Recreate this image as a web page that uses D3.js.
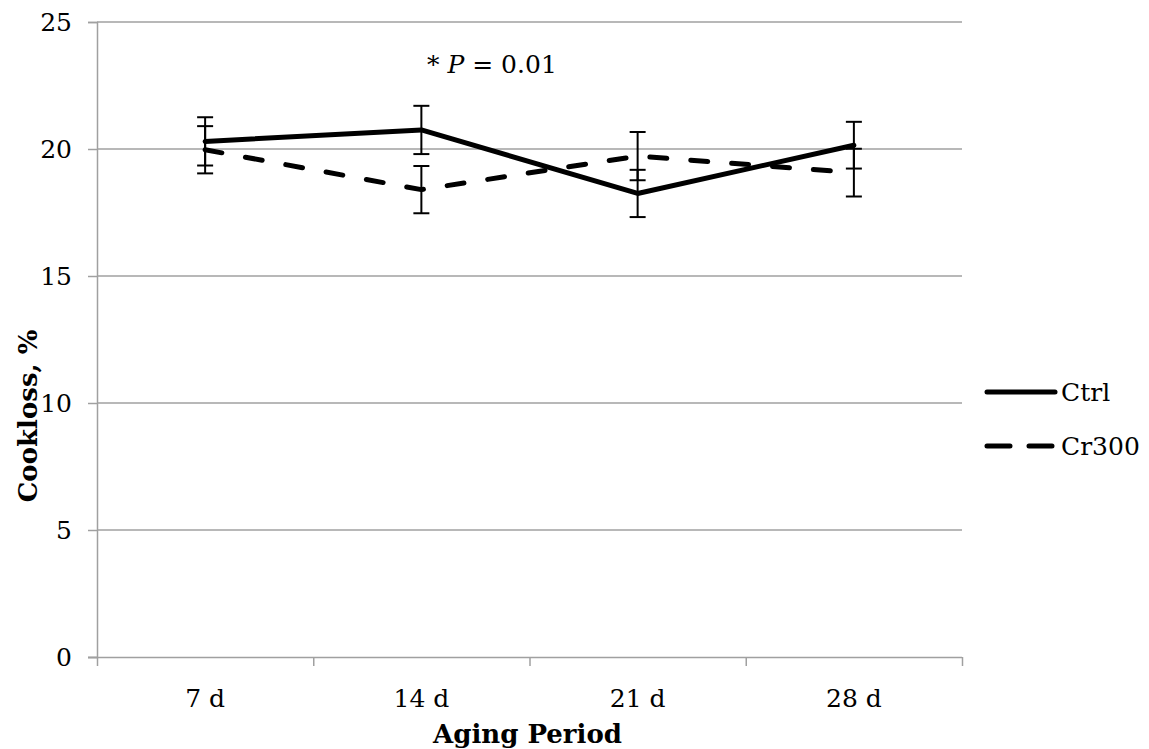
<!DOCTYPE html>
<html>
<head>
<meta charset="utf-8">
<script src="https://cdn.jsdelivr.net/npm/d3@7"></script>
<style>
  body { margin: 0; background: #fff; }
  text { font-family: "DejaVu Serif", serif; fill: #000; }
</style>
</head>
<body>
<div id="chart"></div>
<script>
// data
var periods = ["7 d", "14 d", "21 d", "28 d"];
var ctrl = [20.3, 20.75, 18.25, 20.15];
var ctrlErr = [0.95, 0.95, 0.93, 0.92];
var cr300 = [19.97, 18.4, 19.72, 19.07];
var cr300Err = [0.93, 0.93, 0.95, 0.94];
var yTicks = [0, 5, 10, 15, 20, 25];

var svgWidth = 1149, svgHeight = 749;
var margin = { top: 22, left: 97, right: 187, bottom: 92 };
var width = svgWidth - margin.left - margin.right;
var height = svgHeight - margin.top - margin.bottom;

var svg = d3.select("#chart").append("svg")
  .attr("width", svgWidth)
  .attr("height", svgHeight);

var g = svg.append("g")
  .attr("transform", `translate(${margin.left}, ${margin.top})`);

var x = d3.scaleBand().domain(periods).range([0, width]).padding(0);
var xEdges = d3.scaleLinear().domain([0, periods.length]).range([0, width]);
var y = d3.scaleLinear().domain([0, 25]).range([height, 0]);
var cx = d => x(d) + x.bandwidth() / 2;

var grey = "#a0a0a0";

// gridlines
g.append("g")
  .selectAll("line")
  .data(yTicks.slice(1))
  .enter().append("line")
  .attr("x1", 0).attr("x2", width)
  .attr("y1", d => y(d)).attr("y2", d => y(d))
  .attr("stroke", grey).attr("stroke-width", 1.5);

// y axis
var yAxis = g.append("g")
  .call(d3.axisLeft(y).tickValues(yTicks).tickSize(9).tickPadding(16));
yAxis.select(".domain").attr("stroke", grey).attr("stroke-width", 1.5);
yAxis.selectAll(".tick line").attr("stroke", grey).attr("stroke-width", 1.5);
yAxis.selectAll("text").style("font-size", "25px").attr("font-family", null);

// x axis: tick marks at category edges
var xTicksG = g.append("g")
  .attr("transform", `translate(0, ${height})`)
  .call(d3.axisBottom(xEdges).ticks(periods.length).tickFormat("").tickSize(9).tickSizeOuter(0));
xTicksG.select(".domain").attr("stroke", grey).attr("stroke-width", 1.5).attr("d", `M-9,0.5H${width}`);
xTicksG.selectAll(".tick line").attr("stroke", grey).attr("stroke-width", 1.5);

// x labels
var xLab = g.append("g")
  .attr("transform", `translate(0, ${height})`)
  .call(d3.axisBottom(x).tickSize(0).tickPadding(32));
xLab.select(".domain").remove();
xLab.selectAll("text").style("font-size", "25px").attr("font-family", null);

// axis titles
g.append("text")
  .attr("x", width / 2 - 2).attr("y", height + 86)
  .attr("text-anchor", "middle")
  .style("font-size", "26px").style("font-weight", "bold")
  .text("Aging Period");

g.append("text")
  .attr("transform", `translate(-60, ${416 - margin.top}) rotate(-90)`)
  .attr("text-anchor", "middle")
  .style("font-size", "26px").style("font-weight", "bold")
  .text("Cookloss, %");

// significance note
var note = g.append("text")
  .attr("x", 330).attr("y", 51)
  .style("font-size", "25px");
note.append("tspan").text("* ");
note.append("tspan").style("font-style", "italic").text("P");
note.append("tspan").text(" = 0.01");

// series
var series = [
  { name: "Ctrl", values: ctrl, err: ctrlErr, dash: null },
  { name: "Cr300", values: cr300, err: cr300Err, dash: "17,24" }
];

var line = d3.line()
  .x((d, i) => cx(periods[i]))
  .y(d => y(d));

series.forEach(function(s) {
  g.append("path")
    .datum(s.values)
    .attr("d", line)
    .attr("fill", "none")
    .attr("stroke", "#000")
    .attr("stroke-width", 5)
    .attr("stroke-linecap", "round")
    .attr("stroke-linejoin", "round")
    .attr("stroke-dasharray", s.dash);
});

// error bars
series.forEach(function(s) {
  var eb = g.append("g").selectAll("g")
    .data(s.values)
    .enter().append("g");
  eb.append("line")
    .attr("x1", (d, i) => cx(periods[i])).attr("x2", (d, i) => cx(periods[i]))
    .attr("y1", (d, i) => y(d + s.err[i])).attr("y2", (d, i) => y(d - s.err[i]))
    .attr("stroke", "#000").attr("stroke-width", 2);
  [1, -1].forEach(function(sign) {
    eb.append("line")
      .attr("x1", (d, i) => cx(periods[i]) - 8).attr("x2", (d, i) => cx(periods[i]) + 8)
      .attr("y1", (d, i) => y(d + sign * s.err[i])).attr("y2", (d, i) => y(d + sign * s.err[i]))
      .attr("stroke", "#000").attr("stroke-width", 2);
  });
});

// legend
var legend = svg.append("g")
  .attr("transform", "translate(985, 392)");
var items = legend.selectAll("g")
  .data(series)
  .enter().append("g")
  .attr("transform", (d, i) => `translate(0, ${i * 54})`);
items.append("line")
  .attr("x1", 2).attr("x2", 70)
  .attr("stroke", "#000").attr("stroke-width", 5)
  .attr("stroke-linecap", "round")
  .attr("stroke-dasharray", d => d.dash ? "23,19" : null);
items.append("text")
  .attr("x", 76).attr("y", 9)
  .style("font-size", "25px")
  .text(d => d.name);
</script>
</body>
</html>
